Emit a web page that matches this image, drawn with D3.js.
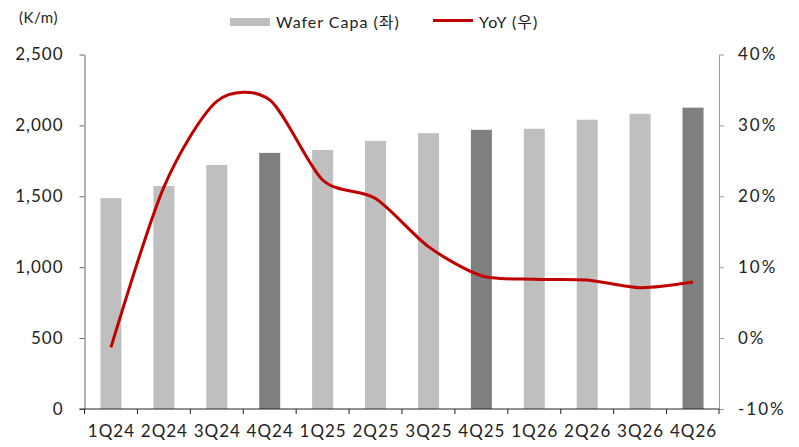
<!DOCTYPE html>
<html>
<head>
<meta charset="utf-8">
<script src="https://cdn.jsdelivr.net/npm/d3@7"></script>
<style>
  html, body { margin: 0; padding: 0; background: #fff; overflow: hidden; }
  svg { display: block; }
  text { font-family: 'Lato', 'Noto Sans CJK KR', sans-serif; fill: #222; }
</style>
</head>
<body>
<script>
const quarters = ['1Q24', '2Q24', '3Q24', '4Q24', '1Q25', '2Q25', '3Q25', '4Q25', '1Q26', '2Q26', '3Q26', '4Q26']
const waferCapa = [1487, 1572, 1721, 1806, 1827, 1891, 1945, 1969, 1976, 2040, 2082, 2125]
const yoy = [-1.3, 21.3, 33.4, 33.6, 22.3, 19.7, 12.9, 8.8, 8.3, 8.2, 7.1, 7.9]
const highlighted = ['4Q24', '4Q25', '4Q26']
const leftTicks = [0, 500, 1000, 1500, 2000, 2500]
const rightTicks = [-10, 0, 10, 20, 30, 40]

const outerWidth = 799
const outerHeight = 447
const margin = { left: 84.5, top: 54.5, right: 80, bottom: 38 }

const lightGray = '#bfbfbf'
const darkGray = '#7f7f7f'
const lineRed = '#c00000'

const svg = d3.select('body')
  .append('svg')
  .attr('width', outerWidth)
  .attr('height', outerHeight)

const innerWidth = outerWidth - margin.left - margin.right
const innerHeight = outerHeight - margin.top - margin.bottom

const g = svg.append('g')
  .attr('transform', `translate(${margin.left},${margin.top})`)

const xScale = d3.scaleBand()
  .domain(quarters)
  .range([0, innerWidth + 0.5])

const yLeft = d3.scaleLinear().domain([0, 2500]).range([innerHeight, 0])
const yRight = d3.scaleLinear().domain([-10, 40]).range([innerHeight, 0])

// bars
const barWidth = 21
g.selectAll('.bar')
  .data(quarters)
  .enter()
  .append('rect')
  .attr('class', 'bar')
  .attr('x', d => xScale(d) + xScale.bandwidth() / 2 - barWidth / 2)
  .attr('y', (d, i) => yLeft(waferCapa[i]))
  .attr('width', barWidth)
  .attr('height', (d, i) => innerHeight - yLeft(waferCapa[i]))
  .style('fill', d => highlighted.includes(d) ? darkGray : lightGray)

// left axis
const leftAxisG = g.append('g')
  .call(d3.axisLeft(yLeft).tickValues(leftTicks).tickSize(5).tickSizeOuter(0).tickFormat(d3.format(',')))
leftAxisG.select('.domain').style('stroke', '#666')
leftAxisG.selectAll('.tick line').style('stroke', '#666')
leftAxisG.selectAll('.tick text')
  .attr('x', -21)
  .style('font-size', '17px')
  .style('letter-spacing', '1px')
  .style('fill', '#222')

// right axis
const rightAxisG = g.append('g')
  .attr('transform', `translate(${innerWidth},0)`)
  .call(d3.axisRight(yRight).tickValues(rightTicks).tickSize(5).tickSizeOuter(0).tickFormat(d => d + '%'))
rightAxisG.select('.domain').style('stroke', '#999')
rightAxisG.selectAll('.tick line').style('stroke', '#999')
rightAxisG.selectAll('.tick text')
  .attr('x', 19)
  .style('font-size', '17px')
  .style('letter-spacing', '2px')
  .style('fill', '#222')

// x axis
const xAxisG = g.append('g')
  .attr('transform', `translate(0,${innerHeight})`)
xAxisG.append('line')
  .attr('x1', -5)
  .attr('x2', innerWidth)
  .style('stroke', '#222')
xAxisG.selectAll('.xtick')
  .data(quarters.concat(['end']))
  .enter()
  .append('line')
  .attr('class', 'xtick')
  .attr('x1', d => d === 'end' ? innerWidth : xScale(d))
  .attr('x2', d => d === 'end' ? innerWidth : xScale(d))
  .attr('y1', 0)
  .attr('y2', 5)
  .style('stroke', '#222')
xAxisG.selectAll('.xlabel')
  .data(quarters)
  .enter()
  .append('text')
  .attr('class', 'xlabel')
  .attr('x', d => xScale(d) + xScale.bandwidth() / 2 + 0.5)
  .attr('y', 28)
  .style('text-anchor', 'middle')
  .style('font-size', '17px')
  .style('letter-spacing', '1px')
  .text(d => d)

// yoy line
const line = d3.line()
  .x((d, i) => xScale(quarters[i]) + xScale.bandwidth() / 2)
  .y(d => yRight(d))
  .curve(d3.curveCardinal.tension(0.2))

g.append('path')
  .datum(yoy)
  .attr('d', line)
  .style('fill', 'none')
  .style('stroke', lineRed)
  .style('stroke-width', 3)

// unit label
svg.append('text')
  .attr('x', 19)
  .attr('y', 23)
  .style('font-size', '15px')
  .style('letter-spacing', '0.5px')
  .text('(K/m)')

// legend
svg.append('rect')
  .attr('x', 230)
  .attr('y', 18)
  .attr('width', 40)
  .attr('height', 8)
  .style('fill', lightGray)
svg.append('text')
  .attr('x', 276)
  .attr('y', 28)
  .style('font-size', '16px')
  .style('letter-spacing', '1px')
  .text('Wafer Capa (좌)')

svg.append('line')
  .attr('x1', 433)
  .attr('x2', 473)
  .attr('y1', 20.5)
  .attr('y2', 20.5)
  .style('stroke', lineRed)
  .style('stroke-width', 3)
svg.append('text')
  .attr('x', 479)
  .attr('y', 28)
  .style('font-size', '16px')
  .style('letter-spacing', '1px')
  .text('YoY (우)')
</script>
</body>
</html>
